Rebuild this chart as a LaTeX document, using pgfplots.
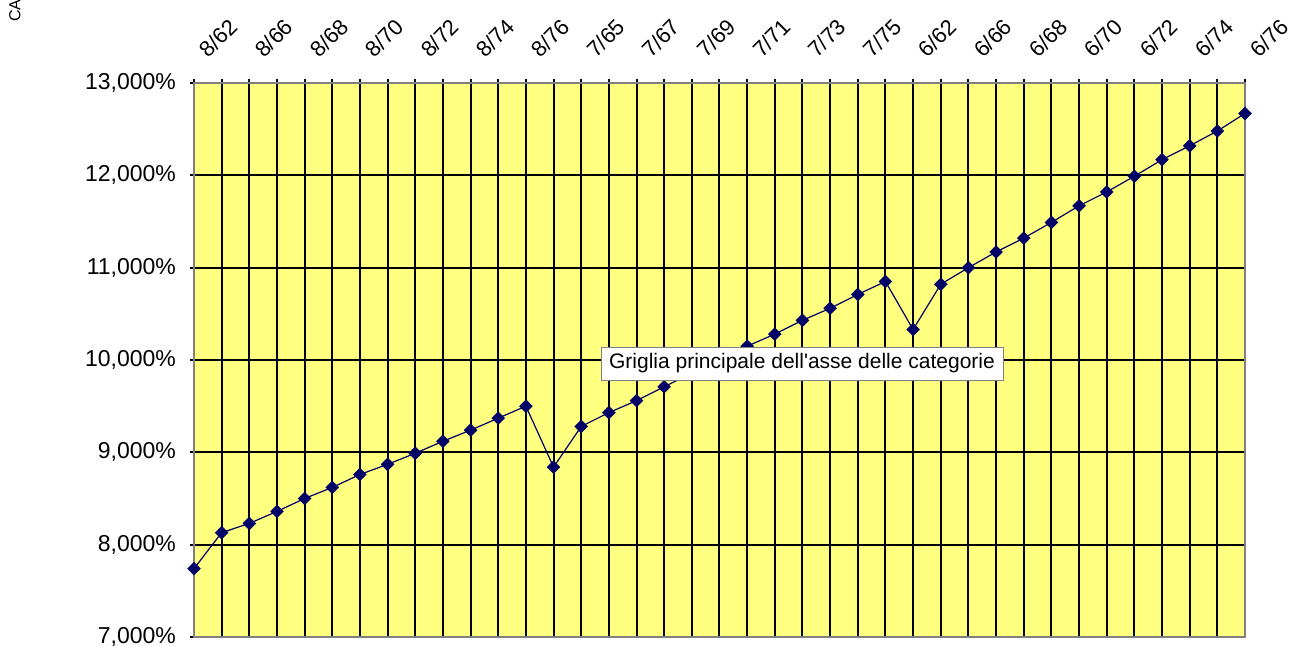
\documentclass[border=0pt]{standalone}
\usepackage{graphicx}
\usepackage{pgfplots}
\pgfplotsset{compat=1.18}
\usepackage{fontspec}
\setmainfont{Liberation Sans}
\definecolor{plotbg}{RGB}{255,255,128}
\definecolor{navy}{RGB}{0,0,102}
\pgfplotstableread{
x y
0 7.74
1 8.13
2 8.23
3 8.36
4 8.50
5 8.62
6 8.76
7 8.87
8 8.99
9 9.12
10 9.24
11 9.37
12 9.50
13 8.84
14 9.28
15 9.43
16 9.56
17 9.71
18 9.86
19 10.01
20 10.15
21 10.28
22 10.43
23 10.56
24 10.71
25 10.85
26 10.33
27 10.82
28 11.00
29 11.17
30 11.32
31 11.49
32 11.67
33 11.82
34 11.99
35 12.17
36 12.32
37 12.48
38 12.67
}\datatable
\begin{document}
\begin{tikzpicture}
\begin{axis}[
  at={(0,0)}, anchor=south west,
  scale only axis, width=525.5pt, height=277pt,
  xmin=0, xmax=38, ymin=7, ymax=13,
  xtick={0,...,38},
  xticklabels={8/62,{},8/66,{},8/68,{},8/70,{},8/72,{},8/74,{},8/76,{},7/65,{},7/67,{},7/69,{},7/71,{},7/73,{},7/75,{},6/62,{},6/66,{},6/68,{},6/70,{},6/72,{},6/74,{},6/76},
  ytick={7,8,9,10,11,12,13},
  yticklabels={{7,000\%},{8,000\%},{9,000\%},{10,000\%},{11,000\%},{12,000\%},{13,000\%}},
  xtick pos=right, xticklabel pos=right,
  ytick pos=left,
  tick align=center, major tick length=4pt,
  grid=major, major grid style={black, line width=1pt},
  axis line style={draw=gray, line width=1pt},
  axis background/.style={fill=plotbg},
  tick style={black, line width=1pt},
  xticklabel style={xshift=7.5pt, yshift=5pt, rotate=45, anchor=south west, font=\fontsize{11}{13}\selectfont},
  yticklabel style={xshift=-3.5pt, font=\fontsize{11.5}{13}\selectfont},
  clip=false,
]
\addplot[navy, line width=0.6pt, mark=square*, mark size=2.1pt, mark options={fill=navy, draw=navy, rotate=45}] table[x=x, y=y] {\datatable};
\coordinate (tt) at (rel axis cs:0.5785,0.4937);
\end{axis}
\node[draw=gray, fill=white, minimum width=201pt, minimum height=16.5pt, inner sep=0pt, font=\fontsize{10.5}{12}\selectfont] at (tt) {Griglia principale dell\textquotesingle asse delle categorie};
\node[anchor=south east, inner sep=0pt, font=\fontsize{8}{10}\selectfont] at (-86.5pt, 307.5pt) {\rotatebox{90}{CA}};
\pgfresetboundingbox
\path[use as bounding box] (-97pt,-4.5pt) rectangle (552pt,318.5pt);
\end{tikzpicture}
\end{document}
